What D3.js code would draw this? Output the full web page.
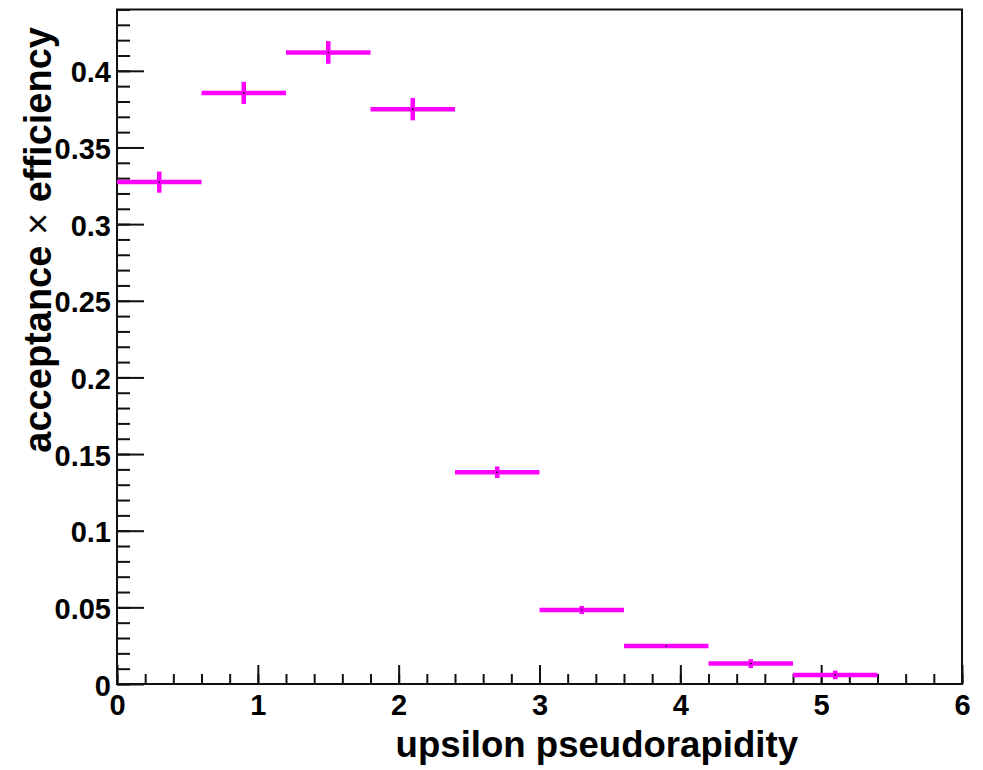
<!DOCTYPE html>
<html>
<head>
<meta charset="utf-8">
<script src="https://cdn.jsdelivr.net/npm/d3@7"></script>
<style>
  html, body { margin: 0; padding: 0; background: #fff; }
  svg { display: block; }
  text { font-family: "Liberation Sans", Arial, Helvetica, sans-serif; font-weight: bold; fill: #000; }
</style>
</head>
<body>
<svg id="chart" width="983" height="770"></svg>
<script>
// ---- data ----
const binEdges = [0, 0.6, 1.2, 1.8, 2.4, 3.0, 3.6, 4.2, 4.8, 5.4];
const values   = [0.3274, 0.3856, 0.4120, 0.3750, 0.1381, 0.0483, 0.0248, 0.0133, 0.0059];
const errors   = [0.0069, 0.0072, 0.0074, 0.0073, 0.0038, 0.0026, 0.0012, 0.0029, 0.0028];
const xMajorTicks = [0, 1, 2, 3, 4, 5, 6];
const yMajorTicks = [0, 0.05, 0.1, 0.15, 0.2, 0.25, 0.3, 0.35, 0.4];
const xTitle = "upsilon pseudorapidity";
const yTitleA = "acceptance ";
const yTitleB = "\u00d7";
const yTitleC = " efficiency";

// ---- layout ----
const plotL = 117, plotR = 962, plotT = 9.5, plotB = 684;
const svg = d3.select("#chart");

const x = d3.scaleLinear().domain([0, 6]).range([plotL, plotR]);
const y = d3.scaleLinear().domain([0, 0.44]).range([plotB, plotT]);

const xMinor = d3.range(0, 6.0001, 0.2).map(v => +v.toFixed(2));
const yMinor = d3.range(0, 0.44001, 0.01).map(v => +v.toFixed(3));

const tickFont = g => g.style("font-size", "29px")
  .style("font-family", "'Liberation Sans', Arial, sans-serif")
  .style("font-weight", "bold").attr("fill", "#000");

// frame
svg.append("rect")
  .attr("x", plotL).attr("y", plotT)
  .attr("width", plotR - plotL).attr("height", plotB - plotT)
  .attr("fill", "none").attr("stroke", "#111").attr("stroke-width", 2);

// y minor ticks
svg.append("g").attr("transform", `translate(${plotL},0)`)
  .call(d3.axisLeft(y).tickValues(yMinor).tickSize(-13).tickFormat(""))
  .call(g => g.select(".domain").remove())
  .call(g => g.selectAll("line").attr("stroke", "#111").attr("stroke-width", 2));

// y major ticks + labels
svg.append("g").attr("transform", `translate(${plotL},0)`)
  .call(d3.axisLeft(y).tickValues(yMajorTicks).tickSize(-27).tickPadding(6)
        .tickFormat(d => String(+d.toFixed(2))))
  .call(g => g.select(".domain").remove())
  .call(g => g.selectAll("line").attr("stroke", "#111").attr("stroke-width", 2))
  .call(g => g.selectAll("text").attr("dy", null).attr("y", 11).call(tickFont));

// x minor ticks
svg.append("g").attr("transform", `translate(0,${plotB})`)
  .call(d3.axisBottom(x).tickValues(xMinor).tickSize(-10).tickFormat(""))
  .call(g => g.select(".domain").remove())
  .call(g => g.selectAll("line").attr("stroke", "#111").attr("stroke-width", 2));

// x major ticks + labels
svg.append("g").attr("transform", `translate(0,${plotB})`)
  .call(d3.axisBottom(x).tickValues(xMajorTicks).tickSize(-19).tickPadding(10).tickFormat(d3.format("d")))
  .call(g => g.select(".domain").remove())
  .call(g => g.selectAll("line").attr("stroke", "#111").attr("stroke-width", 2))
  .call(g => g.selectAll("text").call(tickFont));

// data: horizontal bin bars + vertical error bars
const bins = values.map((v, i) => ({ lo: binEdges[i], hi: binEdges[i + 1], v, e: errors[i] }));
const gData = svg.append("g");
const magenta = "#ff00ff";
gData.selectAll("line.h").data(bins).join("line")
  .attr("class", "h")
  .attr("x1", d => x(d.lo)).attr("x2", d => x(d.hi))
  .attr("y1", d => y(d.v)).attr("y2", d => y(d.v))
  .attr("stroke", magenta).attr("stroke-width", 4.5);
gData.selectAll("line.v").data(bins).join("line")
  .attr("class", "v")
  .attr("x1", d => x((d.lo + d.hi) / 2)).attr("x2", d => x((d.lo + d.hi) / 2))
  .attr("y1", d => y(d.v - d.e)).attr("y2", d => y(d.v + d.e))
  .attr("stroke", magenta).attr("stroke-width", 4.5);
gData.selectAll("rect.m").data(bins).join("rect")
  .attr("class", "m")
  .attr("x", d => x((d.lo + d.hi) / 2) - 0.75).attr("y", d => y(d.v) - 0.75)
  .attr("width", 1.5).attr("height", 1.5)
  .attr("fill", "#000");

// axis titles
svg.append("text")
  .attr("x", 798).attr("y", 757)
  .attr("text-anchor", "end")
  .style("font-size", "36.6px")
  .text(xTitle);

const yt = svg.append("text")
  .attr("transform", "translate(51,27) rotate(-90)")
  .attr("text-anchor", "end")
  .style("font-size", "38px");
yt.append("tspan").text(yTitleA);
yt.append("tspan").style("font-weight", "normal").text(yTitleB);
yt.append("tspan").text(yTitleC);
</script>
</body>
</html>
